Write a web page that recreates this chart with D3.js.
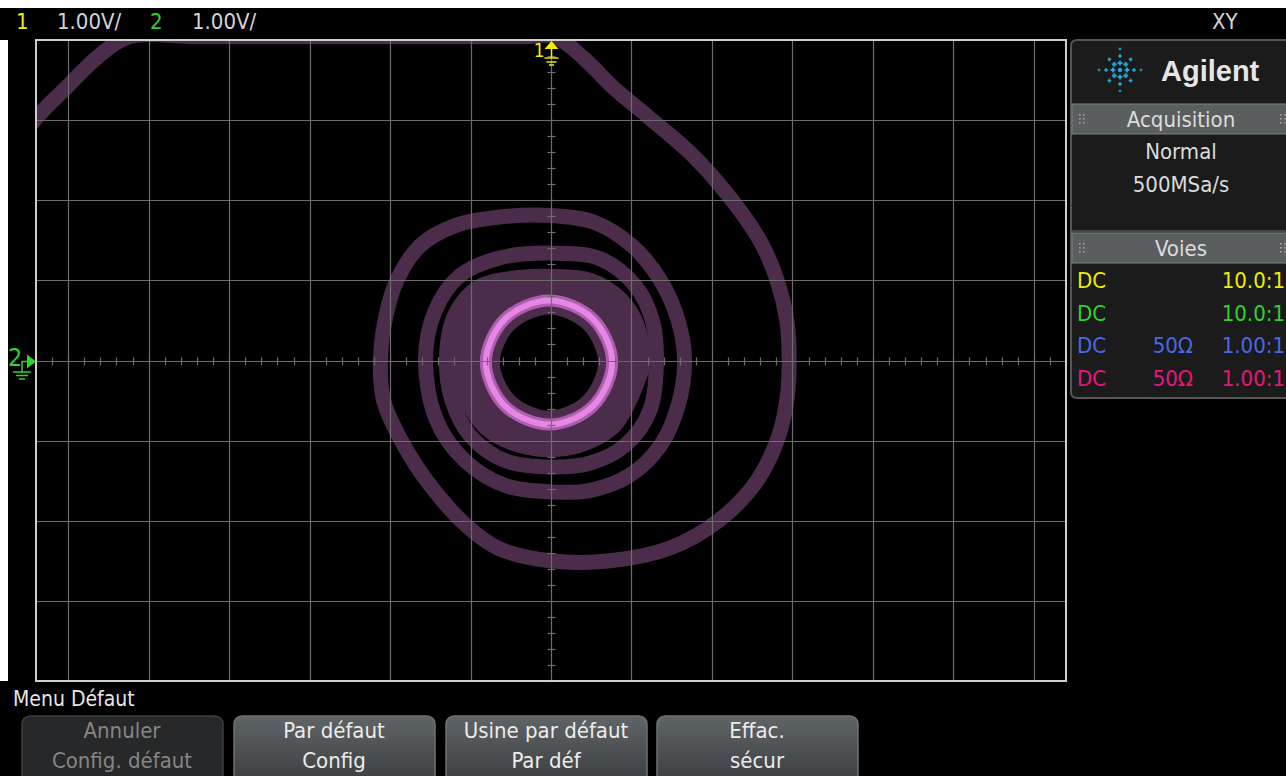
<!DOCTYPE html>
<meta charset="utf-8">
<title>XY</title>
<style>
body { margin: 0; background: #fff; overflow: hidden; }
svg { display: block; }
text { font-family: "DejaVu Sans", sans-serif; font-stretch: condensed; }
</style>
<body></body>
<script src="https://cdn.jsdelivr.net/npm/d3@7"></script>
<script>

// channel 1 (X) and channel 2 (Y) in volts, 1.00 V/div
var ch1 = [-6.86, -6.41, -6.03, -5.62, -5.24, -4.37, -2.88, -1.38, -0.39, 0.05,
  0.42, 0.76, 1.21, 1.73, 2.18, 2.60, 2.81, 2.93, 2.96, 2.93,
  2.81, 2.54, 2.08, 1.48, 0.73, 0.00, -0.64, -1.03, -1.53, -1.86,
  -2.08, -2.12, -2.05, -1.91, -1.63, -1.20, -0.64, 0.00, 0.55, 1.01,
  1.36, 1.58, 1.66, 1.58, 1.36, 0.98, 0.49, 0.00, -0.57, -1.07,
  -1.42, -1.56, -1.44, -1.13, -0.64, 0.00, 0.61, 1.05, 1.26, 1.31,
  1.23, 0.92, 0.49, 0.00, -0.57, -1.01, -1.23, -1.30, -1.20, -0.91,
  -0.45, 0.00, 0.49, 0.86, 1.07, 1.12,
  0.73, -0.01, -0.78, -1.13, -0.82, -0.01, 0.76,
  0.98, 0.67, -0.01, -0.71, -1.01, -0.72, -0.01, 0.68,
  0.88, 0.61, -0.01, -0.63, -0.91, -0.65, -0.01, 0.62,
  0.81, 0.56, -0.02, -0.60, -0.85, -0.61, -0.02, 0.56, 0.76];
var ch2 = [2.34, 3.01, 3.40, 3.80, 4.23, 4.73, 5.11, 5.04, 4.61, 4.05,
  3.76, 3.42, 3.04, 2.59, 2.09, 1.49, 1.00, 0.50, 0.00, -0.50,
  -1.00, -1.53, -2.00, -2.34, -2.50, -2.50, -2.35, -2.08, -1.52, -1.00,
  -0.50, 0.00, 0.56, 1.01, 1.43, 1.68, 1.79, 1.81, 1.72, 1.43,
  1.00, 0.50, 0.00, -0.56, -1.06, -1.43, -1.62, -1.64, -1.56, -1.25,
  -0.75, 0.00, 0.62, 1.06, 1.28, 1.34, 1.27, 0.93, 0.50, 0.00,
  -0.62, -1.06, -1.28, -1.33, -1.25, -0.93, -0.50, 0.00, 0.56, 0.91,
  1.03, 1.05, 1.00, 0.77, 0.44, 0.00,
  -0.81, -1.07, -0.81, -0.02, 0.75, 0.97, 0.75,
  -0.02, -0.72, -0.96, -0.72, -0.02, 0.67, 0.88, 0.67,
  -0.02, -0.65, -0.90, -0.65, -0.02, 0.62, 0.83, 0.62,
  -0.02, -0.60, -0.85, -0.60, -0.02, 0.57, 0.78, 0.57, -0.02];

// the settled loop (bright ring)
var loop1 = [0.76, 0.52, -0.02, -0.57, -0.81, -0.57, -0.02, 0.52];
var loop2 = [-0.02, -0.57, -0.80, -0.57, -0.02, 0.52, 0.75, 0.52];

// screen divisions
var divX = [-6, -5, -4, -3, -2, -1, 0, 1, 2, 3, 4, 5, 6];
var divY = [-3, -2, -1, 0, 1, 2, 3];

var chanNames = ["1", "2"];
var chanScales = ["1.00V/", "1.00V/"];
var acqLines = ["Normal", "500MSa/s"];
var coupling = ["DC", "DC", "DC", "DC"];
var impedance = ["", "", "50\u03a9", "50\u03a9"];
var probe = ["10.0:1", "10.0:1", "1.00:1", "1.00:1"];
var softkeys = [["Annuler", "Config. d\u00e9faut"], ["Par d\u00e9faut", "Config"],
  ["Usine par d\u00e9faut", "Par d\u00e9f"], ["Effac.", "s\u00e9cur"]];

var chanColor = ["#eded00", "#2fd22f", "#4a68e6", "#e8167a"];

var W = 1286, H = 776;
var svg = d3.select("body").append("svg").attr("width", W).attr("height", H);

svg.append("rect").attr("width", W).attr("height", H).attr("fill", "#fff");
svg.append("rect").attr("x", 0).attr("y", 8).attr("width", W).attr("height", H - 8).attr("fill", "#000");
svg.append("rect").attr("x", 0).attr("y", 40).attr("width", 8).attr("height", 641).attr("fill", "#fff");

var plot = {left: 36, top: 40, right: 1066, bottom: 681};
var x = d3.scaleLinear().domain([-6.4, 6.4]).range([plot.left, plot.right]);
var y = d3.scaleLinear().domain([-4, 4]).range([plot.bottom, plot.top]);
// anything off the top gets pinned to the top edge
var yTrace = d3.scaleLinear().domain([-4.04, 4.04]).range([y(-4.04), y(4.04)]).clamp(true);

var defs = svg.append("defs");
defs.append("clipPath").attr("id", "screen").append("rect")
    .attr("x", plot.left).attr("y", plot.top)
    .attr("width", plot.right - plot.left).attr("height", plot.bottom - plot.top);

var grad = defs.append("linearGradient").attr("id", "key")
    .attr("x1", 0).attr("y1", 0).attr("x2", 0).attr("y2", 1);
grad.append("stop").attr("offset", "0%").attr("stop-color", "#5f6466");
grad.append("stop").attr("offset", "100%").attr("stop-color", "#393c3e");

// traces
var traces = svg.append("g").attr("clip-path", "url(#screen)");

var line = d3.line()
    .x(function(d) { return x(d[0]); })
    .y(function(d) { return yTrace(d[1]); })
    .curve(d3.curveCatmullRom.alpha(0.5));

var loopLine = d3.line()
    .x(function(d) { return x(d[0]); })
    .y(function(d) { return yTrace(d[1]); })
    .curve(d3.curveCatmullRomClosed.alpha(0.5));

var pts = d3.zip(ch1, ch2);
var loopPts = d3.zip(loop1, loop2);
var purple = "#4b2c4b";

traces.append("path")
    .attr("d", line(pts))
    .attr("fill", "none")
    .attr("stroke", purple)
    .attr("stroke-width", 15)
    .attr("stroke-linejoin", "round");

// inner turns pile up into a solid band
traces.append("path")
    .attr("d", line(pts.slice(75)))
    .attr("fill", "none")
    .attr("stroke", purple)
    .attr("stroke-width", 22);

traces.append("path")
    .attr("d", loopLine(loopPts))
    .attr("fill", "none")
    .attr("stroke", purple)
    .attr("stroke-width", 28);

traces.append("path")
    .attr("d", loopLine(loopPts))
    .attr("fill", "none")
    .attr("stroke", "#b05cb0")
    .attr("stroke-width", 12);

traces.append("path")
    .attr("d", loopLine(loopPts))
    .attr("fill", "none")
    .attr("stroke", "#e488e4")
    .attr("stroke-width", 6);

// graticule
var grid = svg.append("g").attr("stroke", "#6c6c6c").attr("stroke-width", 1.2);

grid.selectAll(".gx").data(divX).enter().append("line")
    .attr("x1", function(d) { return Math.round(x(d)) + 0.5; })
    .attr("x2", function(d) { return Math.round(x(d)) + 0.5; })
    .attr("y1", plot.top).attr("y2", plot.bottom);

grid.selectAll(".gy").data(divY).enter().append("line")
    .attr("y1", function(d) { return Math.round(y(d)) + 0.5; })
    .attr("y2", function(d) { return Math.round(y(d)) + 0.5; })
    .attr("x1", plot.left).attr("x2", plot.right);

// minor ticks on the centre lines, 5 per division
var minorX = d3.range(-32, 33).map(function(i) { return i / 5; });
var minorY = d3.range(-20, 21).map(function(i) { return i / 5; });
var cx = Math.round(x(0)) + 0.5, cy = Math.round(y(0)) + 0.5;

grid.selectAll(".mx").data(minorX).enter().append("line")
    .attr("x1", function(d) { return Math.round(x(d)) + 0.5; })
    .attr("x2", function(d) { return Math.round(x(d)) + 0.5; })
    .attr("y1", cy - 4).attr("y2", cy + 4);

grid.selectAll(".my").data(minorY).enter().append("line")
    .attr("y1", function(d) { return Math.round(y(d)) + 0.5; })
    .attr("y2", function(d) { return Math.round(y(d)) + 0.5; })
    .attr("x1", cx - 4).attr("x2", cx + 4);

svg.append("rect")
    .attr("x", plot.left).attr("y", plot.top)
    .attr("width", plot.right - plot.left).attr("height", plot.bottom - plot.top)
    .attr("fill", "none").attr("stroke", "#cfcfcf").attr("stroke-width", 2);

// ground markers
var m1 = svg.append("g").attr("fill", chanColor[0]).attr("stroke", chanColor[0]);
m1.append("path").attr("stroke", "none")
    .attr("d", "M" + (cx - 7) + ",49L" + (cx + 7) + ",49L" + cx + ",41Z");
m1.append("line").attr("x1", cx).attr("x2", cx).attr("y1", 48).attr("y2", 58).attr("stroke-width", 1.5);
[[7, 58], [5, 62], [2.5, 65]].forEach(function(g) {
  m1.append("line").attr("x1", cx - g[0]).attr("x2", cx + g[0])
      .attr("y1", g[1]).attr("y2", g[1]).attr("stroke-width", 1.5);
});
m1.append("text").attr("x", cx - 7).attr("y", 57).attr("text-anchor", "end")
    .attr("stroke", "none").attr("font-size", 19).text(chanNames[0]);

var m2 = svg.append("g").attr("fill", chanColor[1]).attr("stroke", chanColor[1]);
m2.append("path").attr("stroke", "none")
    .attr("d", "M27," + (cy - 7) + "L27," + (cy + 7) + "L36," + cy + "Z");
m2.append("path").attr("fill", "none").attr("stroke-width", 1.5)
    .attr("d", "M22," + (cy + 11) + "L22," + cy + "L28," + cy);
[[9, 372], [6, 375.5], [3, 379]].forEach(function(g) {
  m2.append("line").attr("x1", 22 - g[0]).attr("x2", 22 + g[0])
      .attr("y1", g[1]).attr("y2", g[1]).attr("stroke-width", 1.5);
});
m2.append("text").attr("x", 8).attr("y", 366).attr("stroke", "none")
    .attr("font-size", 25).text(chanNames[1]);

// top status line
var topBar = svg.append("g").attr("font-size", 22);
var topX = [[16, 57], [150, 192]];
chanNames.forEach(function(n, i) {
  topBar.append("text").attr("x", topX[i][0]).attr("y", 29).attr("fill", chanColor[i]).text(n);
  topBar.append("text").attr("x", topX[i][1]).attr("y", 29).attr("fill", "#d4d4d4").text(chanScales[i]);
});
topBar.append("text").attr("x", 1212).attr("y", 29).attr("fill", "#d4d4d4").text("XY");

// side panel
var side = svg.append("g");
side.append("path")
    .attr("d", "M1071,46Q1071,40 1077,40L1290,40L1290,398L1077,398Q1071,398 1071,392Z")
    .attr("fill", "#1b1b1b").attr("stroke", "#555").attr("stroke-width", 2);

// logo
var logo = side.append("g").attr("fill", "#25a6d6");
var lx = 1120, ly = 70;
d3.range(8).forEach(function(k) {
  var a = k * Math.PI / 4;
  var reach = (k % 2 === 0) ? [7, 14, 21] : [8, 15];
  reach.forEach(function(r, j) {
    var s = 2.4 - j * 0.5;
    var px = lx + Math.cos(a) * r, py = ly + Math.sin(a) * r;
    logo.append("rect").attr("x", px - s).attr("y", py - s / 2.5).attr("width", 2 * s).attr("height", s / 1.25);
    logo.append("rect").attr("x", px - s / 2.5).attr("y", py - s).attr("width", s / 1.25).attr("height", 2 * s);
  });
});
logo.append("circle").attr("cx", lx).attr("cy", ly).attr("r", 2.2);
side.append("text").attr("x", 1161).attr("y", 81).attr("fill", "#e6e6e6")
    .style("font-family", "Liberation Sans, Arial, sans-serif").style("font-stretch", "normal")
    .attr("font-weight", "bold").attr("font-size", 29).text("Agilent");

function header(y0, label) {
  side.append("rect").attr("x", 1072).attr("y", y0).attr("width", 216).attr("height", 30)
      .attr("fill", "#5b5e5f").attr("stroke", "#7d8081").attr("stroke-width", 1);
  side.append("text").attr("x", 1181).attr("y", y0 + 23).attr("text-anchor", "middle")
      .attr("fill", "#dcdcdc").attr("font-size", 22).text(label);
  [1079, 1280].forEach(function(dx) {
    [0, 1].forEach(function(c) {
      [0, 1, 2].forEach(function(r) {
        side.append("rect").attr("x", dx + c * 4).attr("y", y0 + 10 + r * 4)
            .attr("width", 1.6).attr("height", 1.6).attr("fill", "#a0a0a0");
      });
    });
  });
}
header(104, "Acquisition");
header(233, "Voies");
side.append("line").attr("x1", 1072).attr("x2", 1290).attr("y1", 231).attr("y2", 231)
    .attr("stroke", "#555").attr("stroke-width", 1.5);

acqLines.forEach(function(t, i) {
  side.append("text").attr("x", 1181).attr("y", 159 + i * 33).attr("text-anchor", "middle")
      .attr("fill", "#dcdcdc").attr("font-size", 22).text(t);
});

coupling.forEach(function(c, i) {
  var yy = 288 + i * 32.5;
  side.append("text").attr("x", 1077).attr("y", yy).attr("fill", chanColor[i]).attr("font-size", 22).text(c);
  side.append("text").attr("x", 1193).attr("y", yy).attr("text-anchor", "end")
      .attr("fill", chanColor[i]).attr("font-size", 22).text(impedance[i]);
  side.append("text").attr("x", 1285).attr("y", yy).attr("text-anchor", "end")
      .attr("fill", chanColor[i]).attr("font-size", 22).text(probe[i]);
});

// softkey menu
svg.append("text").attr("x", 13).attr("y", 706).attr("fill", "#e6e6e6")
    .attr("font-size", 21).text("Menu D\u00e9faut");

var keyX = [22, 234, 446, 657];
var keys = svg.selectAll(".key").data(softkeys).enter().append("g")
    .attr("transform", function(d, i) { return "translate(" + keyX[i] + ",716)"; });

keys.append("rect").attr("width", 201).attr("height", 72).attr("rx", 8)
    .attr("fill", function(d, i) { return i === 0 ? "#272829" : "url(#key)"; })
    .attr("stroke", function(d, i) { return i === 0 ? "#3e3f40" : "#6d7274"; })
    .attr("stroke-width", 1.5);

keys.each(function(d, i) {
  var g = d3.select(this);
  d.forEach(function(t, j) {
    g.append("text").attr("x", 100).attr("y", 22 + j * 30).attr("text-anchor", "middle")
        .attr("fill", i === 0 ? "#858585" : "#ececec").attr("font-size", 22).text(t);
  });
});

</script>
